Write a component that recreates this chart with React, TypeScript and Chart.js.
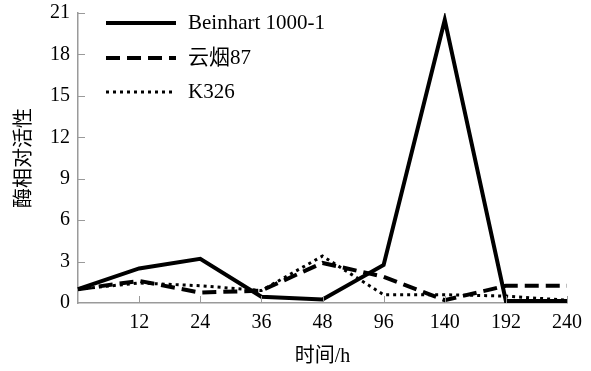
import React, { useEffect, useRef } from "react";
import { Chart, registerables } from "chart.js";

Chart.register(...registerables);

const categories = ["", "12", "24", "36", "48", "96", "140", "192", "240"];
const beinhart = [1.0, 2.5, 3.2, 0.45, 0.25, 2.75, 20.5, 0.15, 0.15];
const yunyan87 = [1.0, 1.6, 0.75, 0.9, 2.9, 1.9, 0.2, 1.25, 1.25];
const k326 = [1.0, 1.45, 1.25, 0.9, 3.4, 0.6, 0.6, 0.5, 0.2];
const seriesNames = ["Beinhart 1000-1", "云烟87", "K326"];
const yMin = 0;
const yMax = 21;
const yStep = 3;
const xTitle = "时间/h";
const yTitle = "酶相对活性";

const SERIF = "'Liberation Serif', 'Times New Roman', serif";
const MIXED = "'Liberation Serif', 'Noto Sans CJK SC', serif";
const AXIS_GRAY = "#9a9a9a";

const innerTicks = {
  id: "innerTicks",
  afterDatasetsDraw(chart: any) {
    const { ctx, chartArea, scales } = chart;
    const x = scales.x;
    const y = scales.y;
    ctx.save();
    ctx.strokeStyle = AXIS_GRAY;
    ctx.lineWidth = 1;
    x.ticks.forEach((_: any, i: number) => {
      if (i === 0) return;
      const px = Math.round(x.getPixelForTick(i)) + 0.5;
      ctx.beginPath();
      ctx.moveTo(px, chartArea.bottom);
      ctx.lineTo(px, chartArea.bottom - 7);
      ctx.stroke();
    });
    y.ticks.forEach((_: any, i: number) => {
      if (i === 0) return;
      const py = Math.round(y.getPixelForTick(i)) + 0.5;
      ctx.beginPath();
      ctx.moveTo(chartArea.left, py);
      ctx.lineTo(chartArea.left + 7, py);
      ctx.stroke();
    });
    ctx.restore();
  },
};

const customLegend = {
  id: "customLegend",
  afterDraw(chart: any) {
    const { ctx, chartArea } = chart;
    const x0 = chartArea.left + 28;
    const len = 70;
    const rowY = [chartArea.top + 10, chartArea.top + 45, chartArea.top + 79];
    ctx.save();
    chart.data.datasets.forEach((ds: any, i: number) => {
      const yy = rowY[i];
      ctx.beginPath();
      ctx.strokeStyle = "#000";
      ctx.lineWidth = ds.borderWidth;
      ctx.setLineDash(ds.borderDash || []);
      ctx.lineCap = "butt";
      ctx.moveTo(x0, yy);
      ctx.lineTo(x0 + len, yy);
      ctx.stroke();
      ctx.setLineDash([]);
      ctx.fillStyle = "#000";
      ctx.font = `21px ${MIXED}`;
      ctx.textBaseline = "middle";
      ctx.textAlign = "left";
      ctx.fillText(ds.label, x0 + len + 12, yy);
    });
    ctx.restore();
  },
};

export default function App() {
  const ref = useRef<HTMLCanvasElement | null>(null);

  useEffect(() => {
    if (!ref.current) return;
    const chart = new Chart(ref.current, {
      type: "line",
      data: {
        labels: categories,
        datasets: [
          {
            label: seriesNames[0],
            data: beinhart,
            borderColor: "#000",
            borderWidth: 4,
            pointRadius: 0,
            tension: 0,
            fill: false,
          },
          {
            label: seriesNames[1],
            data: yunyan87,
            borderColor: "#000",
            borderWidth: 4,
            borderDash: [14, 7],
            pointRadius: 0,
            tension: 0,
            fill: false,
          },
          {
            label: seriesNames[2],
            data: k326,
            borderColor: "#000",
            borderWidth: 3,
            borderDash: [3, 4],
            pointRadius: 0,
            tension: 0,
            fill: false,
          },
        ],
      },
      options: {
        responsive: false,
        animation: false,
        layout: { padding: { top: 12, right: 24, left: 10, bottom: 2 } },
        plugins: {
          legend: { display: false },
          tooltip: { enabled: false },
        },
        scales: {
          x: {
            offset: false,
            grid: { display: false, drawTicks: false },
            border: { display: true, color: AXIS_GRAY, width: 1.5 },
            ticks: {
              color: "#000",
              font: { family: SERIF, size: 20 },
              padding: 8,
              maxRotation: 0,
              autoSkip: false,
            },
            title: {
              display: true,
              text: xTitle,
              color: "#000",
              font: { family: MIXED, size: 20 },
              padding: { top: 2, bottom: 0 },
            },
          },
          y: {
            min: yMin,
            max: yMax,
            grid: { display: false, drawTicks: false },
            border: { display: true, color: AXIS_GRAY, width: 1.5 },
            ticks: {
              stepSize: yStep,
              color: "#000",
              font: { family: SERIF, size: 20, lineHeight: 0.5 },
              padding: 8,
            },
            title: {
              display: true,
              text: yTitle,
              color: "#000",
              font: { family: "'Noto Sans CJK SC', sans-serif", size: 20 },
              padding: { top: 0, bottom: 8 },
            },
          },
        },
      },
      plugins: [innerTicks, customLegend],
    });
    return () => chart.destroy();
  }, []);

  return (
    <div style={{ position: "fixed", left: 0, top: 0, width: 591, height: 371, background: "#fff" }}>
      <canvas ref={ref} width={591} height={371} style={{ display: "block" }} />
    </div>
  );
}
